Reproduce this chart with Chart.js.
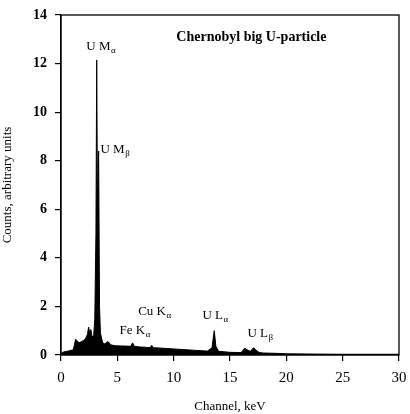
<!DOCTYPE html>
<html>
<head>
<meta charset="utf-8">
<script src="https://cdn.jsdelivr.net/npm/chart.js@4/dist/chart.umd.min.js"></script>
<style>
  html, body { margin: 0; padding: 0; background: #fff; }
  canvas { display: block; }
</style>
</head>
<body>
<canvas id="spectrum" width="410" height="414"></canvas>
<script>
// spectrum: energy (keV) and counts (arb. units)
const energy = [0, 0.2, 0.5, 0.8, 1.1, 1.2, 1.3, 1.4, 1.6, 1.8, 2.0, 2.2, 2.35, 2.45, 2.55, 2.65, 2.75, 2.9, 3.0, 3.1, 3.17, 3.24, 3.34, 3.42, 3.5, 3.7, 3.9, 4.1, 4.25, 4.4, 4.8, 5.5, 6.2, 6.35, 6.5, 7.0, 7.5, 7.9, 8.05, 8.2, 9, 10, 11, 12, 13, 13.4, 13.6, 13.75, 14, 15, 16, 16.3, 16.5, 16.8, 17.1, 17.3, 17.6, 18, 19, 20, 22, 25, 28, 30];
const counts = [0.05, 0.12, 0.15, 0.18, 0.22, 0.45, 0.65, 0.6, 0.5, 0.55, 0.6, 0.7, 0.85, 1.15, 0.9, 1.05, 0.75, 0.8, 1.5, 5.0, 12.15, 6.0, 8.4, 2.0, 0.9, 0.5, 0.45, 0.55, 0.52, 0.42, 0.38, 0.37, 0.36, 0.5, 0.36, 0.33, 0.32, 0.3, 0.4, 0.3, 0.28, 0.25, 0.22, 0.19, 0.16, 0.3, 1.0, 0.35, 0.15, 0.11, 0.1, 0.28, 0.22, 0.15, 0.3, 0.2, 0.1, 0.08, 0.07, 0.05, 0.04, 0.03, 0.03, 0.03];

const xTicks = [0, 5, 10, 15, 20, 25, 30];
const yTicks = [0, 2, 4, 6, 8, 10, 12, 14];

// peak labels: main text, subscript, position (keV, counts)
const peakText = ["U M", "U M", "Fe K", "Cu K", "U L", "U L"];
const peakSub = ["\u03b1", "\u03b2", "\u03b1", "\u03b1", "\u03b1", "\u03b2"];
const peakX = [2.25, 3.5, 5.2, 6.85, 12.55, 16.55];
const peakY = [12.55, 8.3, 0.88, 1.65, 1.5, 0.75];

const titleText = "Chernobyl big U-particle";
const titleX = 16.9;
const titleY = 12.95;

const serif = "'Liberation Serif', 'DejaVu Serif', serif";

const labelPlugin = {
  id: "labels",
  afterDraw(chart) {
    const c = chart.ctx;
    const xs = chart.scales.x, ys = chart.scales.y;
    const area = chart.chartArea;
    c.save();
    // frame around the plot
    c.strokeStyle = "#000";
    c.lineWidth = 1.3;
    c.strokeRect(area.left, area.top, area.right - area.left, area.bottom - area.top);

    c.fillStyle = "#000";
    c.textBaseline = "alphabetic";
    c.textAlign = "center";
    c.font = "bold 14px " + serif;
    c.fillText(titleText, xs.getPixelForValue(titleX), ys.getPixelForValue(titleY));

    c.textAlign = "left";
    peakText.forEach((t, i) => {
      const px = xs.getPixelForValue(peakX[i]);
      const py = ys.getPixelForValue(peakY[i]);
      c.font = "13px " + serif;
      c.fillText(t, px, py);
      const w = c.measureText(t).width;
      c.font = "9px " + serif;
      c.fillText(peakSub[i], px + w + 0.5, py + 3);
    });
    c.restore();
  }
};

new Chart(document.getElementById("spectrum"), {
  type: "line",
  data: {
    datasets: [{
      data: energy.map((e, i) => ({ x: e, y: counts[i] })),
      borderColor: "#000",
      backgroundColor: "#000",
      borderWidth: 1,
      pointRadius: 0,
      fill: "origin",
      tension: 0
    }]
  },
  options: {
    responsive: false,
    animation: false,
    layout: { padding: { top: 15, right: 11, left: 0, bottom: 0 } },
    plugins: { legend: { display: false }, tooltip: { enabled: false } },
    scales: {
      x: {
        type: "linear",
        min: 0,
        max: 30,
        afterFit: s => { s.height = 59; s.paddingRight = 0; s.paddingLeft = 0; },
        afterBuildTicks: s => { s.ticks = xTicks.map(v => ({ value: v })); },
        grid: { drawOnChartArea: false, drawTicks: true, tickLength: 6, color: "#000", lineWidth: 1.2 },
        border: { color: "#000", width: 1.3 },
        ticks: { color: "#000", font: { family: serif, size: 15 }, padding: 8, maxRotation: 0 },
        title: { display: true, text: "Channel, keV", color: "#000", font: { family: serif, size: 13 }, padding: { top: 6, bottom: 0 } }
      },
      y: {
        min: 0,
        max: 14,
        afterFit: s => { s.width = 61; s.paddingTop = 0; s.paddingBottom = 0; },
        afterBuildTicks: s => { s.ticks = yTicks.map(v => ({ value: v })); },
        grid: { drawOnChartArea: false, drawTicks: true, tickLength: 6, color: "#000", lineWidth: 1.2 },
        border: { color: "#000", width: 1.3 },
        ticks: { color: "#000", font: { family: serif, size: 14, weight: "bold" }, padding: 8 },
        title: { display: true, text: "Counts, arbitrary units", color: "#000", font: { family: serif, size: 13 }, padding: { top: 0, bottom: 4 } }
      }
    }
  },
  plugins: [labelPlugin]
});
</script>
</body>
</html>
